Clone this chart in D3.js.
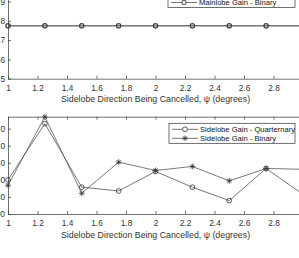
<!DOCTYPE html>
<html>
<head>
<meta charset="utf-8">
<script src="https://cdn.jsdelivr.net/npm/d3@7"></script>
<style>
  body { margin: 0; background: #fff; }
  svg { display: block; font-family: "Liberation Sans", Arial, sans-serif; }
</style>
</head>
<body>
<div id="chart"></div>
<script>
// data
var psi = [1, 1.25, 1.5, 1.75, 2, 2.25, 2.5, 2.75, 3];
var mainQuart = [47.74, 47.74, 47.74, 47.74, 47.74, 47.74, 47.74, 47.74, 47.74];
var mainBin = [47.74, 47.74, 47.74, 47.74, 47.74, 47.74, 47.74, 47.74, 47.74];
var sideQuart = [-60, 5.9, -68.6, -73, -50.2, -68.6, -84.3, -46.7, -77];
var sideBin = [-66.3, 13.8, -75.7, -39.2, -49, -44.3, -61.2, -46.7, -47.6];
var xTicks = [1, 1.2, 1.4, 1.6, 1.8, 2, 2.2, 2.4, 2.6, 2.8, 3];
var topTicks = [45, 46, 47, 48, 49, 50];
var botTicks = [-100, -80, -60, -40, -20, 0];
var xLabel = "Sidelobe Direction Being Cancelled, \u03c8 (degrees)";

var W = 299, H = 258;
var axisColor = "#333", lineColor = "#555";

var svg = d3.select("#chart").append("svg")
    .attr("width", W).attr("height", H);

var x = d3.scaleLinear().domain([1, 3]).range([8, 303]);

// draws one axes box: border, ticks, labels
function drawAxes(y, yTicks, yDomain) {
    var y0 = y(yDomain[0]), y1 = y(yDomain[1]);
    var g = svg.append("g");

    g.append("g")
	.attr("transform", "translate(0," + y0 + ")")
	.call(d3.axisBottom(x).tickValues(xTicks).tickSizeInner(-3).tickSizeOuter(0)
	      .tickPadding(6).tickFormat(d3.format("")));
    g.append("g")
	.attr("transform", "translate(0," + y1 + ")")
	.call(d3.axisTop(x).tickValues(xTicks).tickSizeInner(-3).tickSizeOuter(0)
	      .tickFormat(""));
    g.append("g")
	.attr("transform", "translate(" + x(1) + ",0)")
	.call(d3.axisLeft(y).tickValues(yTicks).tickSizeInner(-3).tickSizeOuter(0)
	      .tickPadding(3).tickFormat(d3.format("")));
    g.append("g")
	.attr("transform", "translate(" + x(3) + ",0)")
	.call(d3.axisRight(y).tickValues(yTicks).tickSizeInner(-3).tickSizeOuter(0)
	      .tickFormat(""));

    g.selectAll(".domain").attr("stroke", axisColor).attr("stroke-width", 0.7);
    g.selectAll(".tick line").attr("stroke", axisColor).attr("stroke-width", 0.7);
    g.selectAll(".tick text").attr("fill", "#333").style("font-size", "8.3px")
	.attr("font-family", "Liberation Sans, Arial, sans-serif");
    return g;
}

function asterisk(r) {
    var p = "";
    [0, 45, 90, 135].forEach(function(a) {
	var rad = a * Math.PI / 180, dx = r * Math.cos(rad), dy = r * Math.sin(rad);
	p += "M" + (-dx) + "," + (-dy) + "L" + dx + "," + dy;
    });
    return p;
}

function drawSeries(y, vals, marker) {
    var line = d3.line().x(function(d, i) { return x(psi[i]); }).y(function(d) { return y(d); });
    svg.append("path").datum(vals).attr("d", line)
	.attr("fill", "none").attr("stroke", lineColor).attr("stroke-width", 0.8);
    var pts = svg.append("g").selectAll("path").data(vals).enter().append("path")
	.attr("transform", function(d, i) { return "translate(" + x(psi[i]) + "," + y(d) + ")"; })
	.attr("fill", "none").attr("stroke", "#333").attr("stroke-width", 0.8);
    setMarker(pts, marker);
}

function setMarker(sel, marker) {
    if (marker == "circle") sel.attr("d", d3.symbol().type(d3.symbolCircle).size(18));
    else if (marker == "square") sel.attr("d", d3.symbol().type(d3.symbolSquare).size(14));
    else sel.attr("d", asterisk(2.9));
}

function legend(x0, x1, yTop, entries) {
    var rowH = 9;
    svg.append("rect").attr("x", x0).attr("y", yTop)
	.attr("width", x1 - x0).attr("height", rowH * entries.length + 2)
	.attr("fill", "#fff").attr("stroke", axisColor).attr("stroke-width", 0.7);
    entries.forEach(function(e, i) {
	var cy = yTop + 6 + i * rowH;
	svg.append("line").attr("x1", x0 + 3).attr("x2", x0 + 29).attr("y1", cy).attr("y2", cy)
	    .attr("stroke", lineColor).attr("stroke-width", 0.8);
	var m = svg.append("path").attr("transform", "translate(" + (x0 + 16) + "," + cy + ")")
	    .attr("fill", "#fff").attr("stroke", "#333").attr("stroke-width", 0.8);
	setMarker(m, e.marker);
	svg.append("text").attr("x", x0 + 31).attr("y", cy + 2.7)
	    .attr("fill", "#111").style("font-size", "7.6px").text(e.label);
    });
}

// top axes: mainlobe gain
var yTop = d3.scaleLinear().domain([45, 50]).range([78.7, -17.8]);
drawAxes(yTop, topTicks, [45, 50]);
drawSeries(yTop, mainQuart, "circle");
drawSeries(yTop, mainBin, "square");
legend(168, 295, -12.5, [
    {label: "Mainlobe Gain - Quarternary", marker: "circle"},
    {label: "Mainlobe Gain - Binary", marker: "square"}
]);
svg.append("text").attr("x", 155.5).attr("y", 102).attr("text-anchor", "middle")
    .attr("fill", "#333").style("font-size", "8.8px").text(xLabel);

// bottom axes: sidelobe gain
var yBot = d3.scaleLinear().domain([-100, 14]).range([214, 116.7]);
drawAxes(yBot, botTicks, [-100, 14]);
drawSeries(yBot, sideQuart, "circle");
drawSeries(yBot, sideBin, "star");
legend(169, 295, 123.3, [
    {label: "Sidelobe Gain - Quarternary", marker: "circle"},
    {label: "Sidelobe Gain - Binary", marker: "star"}
]);
svg.append("text").attr("x", 155.5).attr("y", 237.5).attr("text-anchor", "middle")
    .attr("fill", "#333").style("font-size", "8.8px").text(xLabel);
</script>
</body>
</html>
